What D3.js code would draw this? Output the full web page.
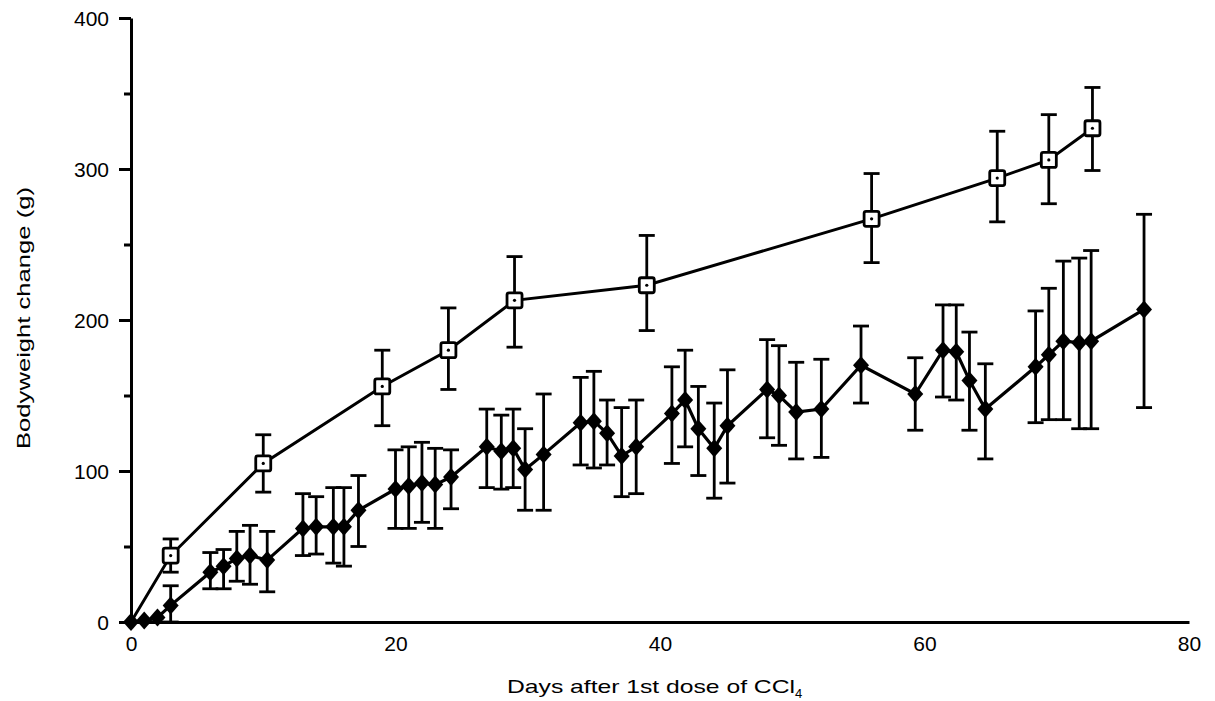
<!DOCTYPE html>
<html>
	<head>
		<meta charset="utf-8">
		<title>Bodyweight change after CCl4</title>
		<script src="https://d3js.org/d3.v7.min.js"></script>
		<style>
			body { margin: 0; background: #fff; }
			text { font-family: "Liberation Sans", Arial, Helvetica, sans-serif; fill: #000; }
		</style>
	</head>
	<body>
		<script>

			//Width and height
			var w = 1215;
			var h = 701;

			//Tick labels
			var xTicks = [0, 20, 40, 60, 80];
			var yTicks = [0, 100, 200, 300, 400];
			var yMinorTicks = [50, 150, 250, 350];

			//Control series (open squares)
			var ctrlDays  = [0, 3, 10, 19, 24, 29, 39, 56, 65.5, 69.4, 72.7];
			var ctrlMean  = [0, 44, 105, 156, 180, 213, 223, 267, 294, 306, 327];
			var ctrlUpper = [0, 55, 124, 180, 208, 242, 256, 297, 325, 336, 354];
			var ctrlLower = [0, 33, 86, 130, 154, 182, 193, 238, 265, 277, 299];

			//CCl4 series (filled diamonds)
			var cclDays  = [0, 1, 2, 3, 6, 7, 8, 9, 10.3, 13, 14, 15.3, 16.1, 17.2, 20, 21, 22, 23, 24.2,
							26.9, 28, 28.9, 29.8, 31.2, 34, 35, 36, 37.1, 38.2, 40.9, 41.9, 42.9, 44.1, 45.1,
							48.1, 49, 50.3, 52.2, 55.2, 59.3, 61.4, 62.4, 63.4, 64.6, 68.4, 69.4, 70.5, 71.7, 72.6, 76.6];
			var cclMean  = [0, 1, 3, 11, 33, 37, 42, 44, 41, 62, 63, 63, 63, 74, 88, 90, 92, 91, 96,
							116, 113, 115, 101, 111, 132, 133, 125, 110, 116, 138, 147, 128, 115, 130,
							154, 150, 139, 141, 170, 151, 180, 179, 160, 141, 169, 177, 186, 185, 186, 207];
			var cclUpper = [0, 1, 3, 24, 46, 48, 60, 64, 60, 85, 83, 89, 89, 97, 114, 116, 119, 115, 114,
							141, 137, 141, 128, 151, 162, 166, 147, 142, 147, 169, 180, 156, 145, 167,
							187, 183, 172, 174, 196, 175, 210, 210, 192, 171, 206, 221, 239, 241, 246, 270];
			var cclLower = [0, 1, 3, 0, 22, 22, 27, 25, 20, 44, 45, 39, 37, 50, 62, 62, 66, 62, 75,
							89, 88, 89, 74, 74, 104, 102, 104, 83, 85, 105, 116, 97, 82, 92,
							122, 117, 108, 109, 145, 127, 149, 147, 127, 108, 132, 134, 134, 128, 128, 142];

			var ctrl = ctrlDays.map(function(d, i) {
				return { x: d, y: ctrlMean[i], hi: ctrlUpper[i], lo: ctrlLower[i] };
			});
			var ccl = cclDays.map(function(d, i) {
				return { x: d, y: cclMean[i], hi: cclUpper[i], lo: cclLower[i] };
			});

			var xScale = d3.scaleLinear()
							.domain([0, 80])
							.range([131, 1189]);

			var yScale = d3.scaleLinear()
							.domain([0, 400])
							.range([622, 18]);

			//Create SVG element
			var svg = d3.select("body")
						.append("svg")
						.attr("width", w)
						.attr("height", h);

			//Axes
			var xAxis = d3.axisBottom(xScale)
							.tickValues(xTicks)
							.tickSize(0)
							.tickSizeOuter(0)
							.tickPadding(14);

			var yAxis = d3.axisLeft(yScale)
							.tickValues(yTicks)
							.tickSize(12)
							.tickSizeOuter(0)
							.tickPadding(10);

			var yMinor = d3.axisLeft(yScale)
							.tickValues(yMinorTicks)
							.tickSize(7)
							.tickSizeOuter(0)
							.tickFormat("");

			var gx = svg.append("g")
				.attr("transform", "translate(0," + yScale(0) + ")")
				.call(xAxis);

			var gy = svg.append("g")
				.attr("transform", "translate(" + xScale(0) + ",0)")
				.call(yAxis);

			var gym = svg.append("g")
				.attr("transform", "translate(" + xScale(0) + ",0)")
				.call(yMinor);

			[gx, gy, gym].forEach(function(g) {
				g.selectAll("path.domain").attr("stroke", "#000").attr("stroke-width", 3);
				g.selectAll(".tick line").attr("stroke", "#000").attr("stroke-width", 3);
				g.selectAll(".tick text")
					.attr("font-size", "21px")
					.attr("font-family", "'Liberation Sans', Arial, sans-serif")
					.attr("fill", "#000");
			});
			gym.select("path.domain").remove();
			gy.selectAll(".tick text").attr("dy", "0.36em");

			//Axis titles
			var xt = svg.append("text")
				.attr("x", 507)
				.attr("y", 693)
				.attr("text-anchor", "start")
				.attr("font-size", "19px");
			xt.append("tspan")
				.attr("textLength", 288)
				.attr("lengthAdjust", "spacingAndGlyphs")
				.text("Days after 1st dose of CCl");
			xt.append("tspan").text("4").attr("font-size", "13px").attr("dy", 5);

			svg.append("text")
				.attr("transform", "translate(30,318) rotate(-90)")
				.attr("text-anchor", "middle")
				.attr("font-size", "19px")
				.attr("textLength", 262)
				.attr("lengthAdjust", "spacingAndGlyphs")
				.text("Bodyweight change (g)");

			//Error bars
			function errorBars(data, cap) {
				var g = svg.append("g")
					.attr("stroke", "#000")
					.attr("stroke-width", 2.8);
				var bars = g.selectAll("g")
					.data(data.filter(function(d) { return d.hi - d.lo > 0; }))
					.enter()
					.append("g");
				bars.append("line")
					.attr("x1", function(d) { return xScale(d.x); })
					.attr("x2", function(d) { return xScale(d.x); })
					.attr("y1", function(d) { return yScale(d.hi); })
					.attr("y2", function(d) { return yScale(d.lo); });
				bars.append("line")
					.attr("x1", function(d) { return xScale(d.x) - cap; })
					.attr("x2", function(d) { return xScale(d.x) + cap; })
					.attr("y1", function(d) { return yScale(d.hi); })
					.attr("y2", function(d) { return yScale(d.hi); });
				bars.append("line")
					.attr("x1", function(d) { return xScale(d.x) - cap; })
					.attr("x2", function(d) { return xScale(d.x) + cap; })
					.attr("y1", function(d) { return yScale(d.lo); })
					.attr("y2", function(d) { return yScale(d.lo); });
			}

			errorBars(ccl, 8);
			errorBars(ctrl, 8);

			//Lines
			var line = d3.line()
				.x(function(d) { return xScale(d.x); })
				.y(function(d) { return yScale(d.y); });

			svg.append("path")
				.datum(ccl)
				.attr("d", line)
				.attr("fill", "none")
				.attr("stroke", "#000")
				.attr("stroke-width", 3.2);

			svg.append("path")
				.datum(ctrl)
				.attr("d", line)
				.attr("fill", "none")
				.attr("stroke", "#000")
				.attr("stroke-width", 3);

			//Diamond markers
			svg.selectAll("path.diamond")
				.data(ccl)
				.enter()
				.append("path")
				.attr("class", "diamond")
				.attr("d", "M0,-9L8,0L0,9L-8,0Z")
				.attr("transform", function(d) {
					return "translate(" + xScale(d.x) + "," + yScale(d.y) + ")";
				})
				.attr("fill", "#000");

			//Square markers
			var sq = svg.selectAll("g.square")
				.data(ctrl.slice(1))
				.enter()
				.append("g")
				.attr("class", "square")
				.attr("transform", function(d) {
					return "translate(" + xScale(d.x) + "," + yScale(d.y) + ")";
				});
			sq.append("rect")
				.attr("x", -7.5)
				.attr("y", -7.5)
				.attr("width", 15)
				.attr("height", 15)
				.attr("rx", 2)
				.attr("fill", "#fff")
				.attr("stroke", "#000")
				.attr("stroke-width", 2.8);
			sq.append("circle")
				.attr("r", 1.6)
				.attr("fill", "#000");

		</script>
	</body>
</html>
